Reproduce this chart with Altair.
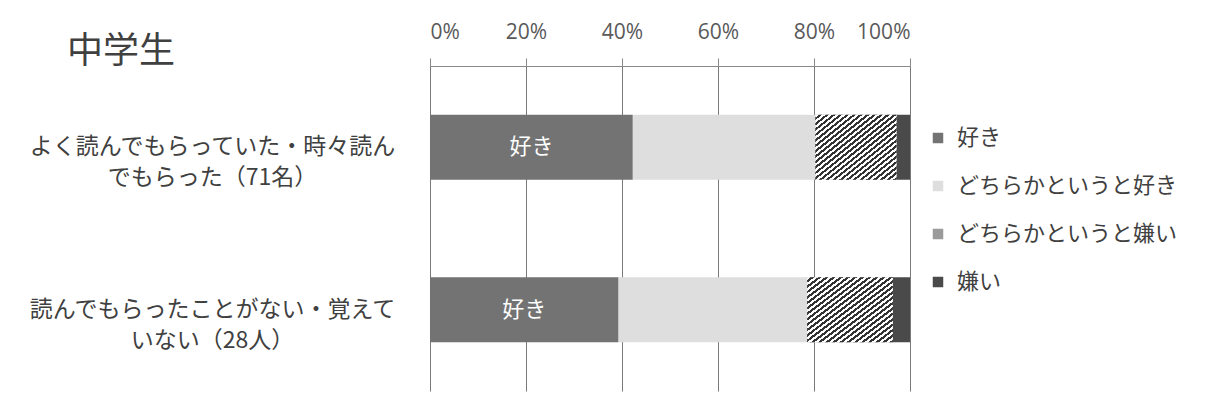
import altair as alt
import pandas as pd

CJK = "Noto Sans CJK JP"

categories = [
    "よく読んでもらっていた・時々読ん|でもらった（71名）",
    "読んでもらったことがない・覚えて|いない（28人）",
]
series = ["好き", "どちらかというと好き", "どちらかというと嫌い", "嫌い"]
counts_group1 = [30, 27, 12, 2]
counts_group2 = [11, 11, 5, 1]
colors = ["#737373", "#dedede", "#9a9a9a", "#4a4a4a"]
ticks = [0, 0.2, 0.4, 0.6, 0.8, 1.0]

rows = []
for cat, counts in zip(categories, [counts_group1, counts_group2]):
    for i, (s, c) in enumerate(zip(series, counts)):
        rows.append({"cat": cat, "series": s, "count": c, "ord": i})
df = pd.DataFrame(rows)

# diagonal hatch gradient
N = 24
stops = []
for k in range(N):
    a = k / N
    b = (k + 0.5) / N
    c = (k + 1) / N
    stops += [
        alt.GradientStop(offset=a, color="#ffffff"),
        alt.GradientStop(offset=b, color="#ffffff"),
        alt.GradientStop(offset=b, color="#333333"),
        alt.GradientStop(offset=c, color="#333333"),
    ]
hatch = alt.LinearGradient(gradient="linear", stops=stops, x1=0, y1=0, x2=1, y2=1)

base = (
    alt.Chart(df)
    .transform_joinaggregate(total="sum(count)", groupby=["cat"])
    .transform_calculate(pct="datum.count / datum.total")
    .transform_stack(stack="pct", as_=["x0", "x1"], groupby=["cat"],
                     sort=[alt.SortField("ord", order="ascending")])
)

x_enc = alt.X(
    "x0:Q",
    scale=alt.Scale(domain=[0, 1], nice=False),
    axis=alt.Axis(
        orient="top", values=ticks, format=".0%", title=None,
        labelFontSize=21, labelFont="Open Sans", labelColor="#595959",
        tickSize=8, tickColor="#8a8a8a", domainColor="#8a8a8a",
        grid=True, gridColor="#7a7a7a", labelPadding=16,
    ),
)
y_enc = alt.Y(
    "cat:N",
    sort=categories,
    scale=alt.Scale(paddingInner=0.6, paddingOuter=0.3),
    axis=alt.Axis(
        title=None, domain=False, ticks=False,
        labelExpr="split(datum.label, '|')",
        labelAlign="center", labelBaseline="middle",
        labelFontSize=23, labelFont=CJK, labelColor="#404040",
        labelLineHeight=31, labelPadding=218, labelLimit=0,
    ),
)

bars = base.mark_bar().encode(
    x=x_enc,
    x2="x1:Q",
    y=y_enc,
    color=alt.Color(
        "series:N",
        scale=alt.Scale(domain=series, range=colors),
        legend=alt.Legend(title=None),
    ),
)

hatched = base.transform_filter(
    alt.datum.series == "どちらかというと嫌い"
).mark_bar(fill=hatch).encode(x="x0:Q", x2="x1:Q", y=alt.Y("cat:N", sort=categories))

labels = (
    base.transform_filter(alt.datum.series == "好き")
    .transform_calculate(mid="(datum.x0 + datum.x1) / 2")
    .mark_text(color="white", fontSize=22, font=CJK)
    .encode(x="mid:Q", y=alt.Y("cat:N", sort=categories), text="series:N")
)

chart = (
    alt.layer(bars, hatched, labels)
    .properties(
        width=480,
        height=325,
        title=alt.Title("中学生", anchor="start", frame="group", fontSize=36,
                        font=CJK, color="#404040", fontWeight="normal",
                        dx=-363, dy=54),
        autosize=alt.AutoSizeParams(type="none"),
        padding={"left": 422, "top": 58, "right": 288, "bottom": 13},
    )
    .configure_view(stroke=None)
    .configure_legend(
        orient="none", legendX=497, legendY=61,
        symbolType="square", symbolSize=110, symbolStrokeWidth=0,
        labelFontSize=22, labelFont=CJK, labelColor="#404040",
        rowPadding=26, labelOffset=8, labelLimit=0,
    )
)

chart.save("out.html", embed_options={"renderer": "svg", "actions": False})
